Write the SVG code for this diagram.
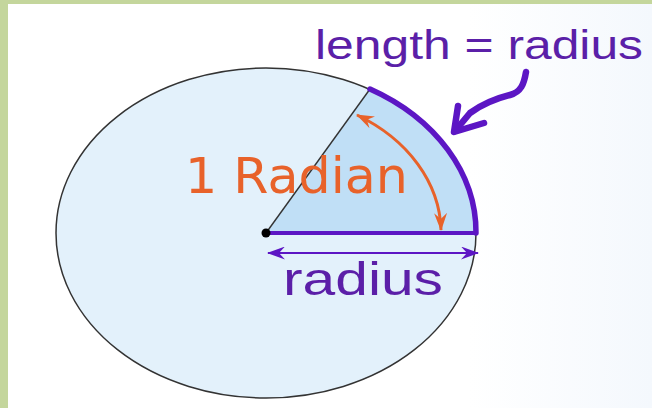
<svg xmlns="http://www.w3.org/2000/svg" width="652" height="408" viewBox="0 0 652 408">
  <defs>
    <linearGradient id="bg" x1="0" y1="0" x2="1" y2="0">
      <stop offset="0" stop-color="#ffffff"/>
      <stop offset="0.72" stop-color="#ffffff"/>
      <stop offset="1" stop-color="#f4f8fd"/>
    </linearGradient>
    <marker id="purpleHead" viewBox="0 0 18 13" refX="17" refY="6.5" markerWidth="18" markerHeight="13" markerUnits="userSpaceOnUse" orient="auto-start-reverse">
      <path d="M0,0 L18,6.5 L0,13 L6,6.5 Z" fill="#5c16c4"/>
    </marker>
    <marker id="orangeHead" viewBox="0 0 18 13" refX="17" refY="6.5" markerWidth="18" markerHeight="13" markerUnits="userSpaceOnUse" orient="auto-start-reverse">
      <path d="M0,0 L18,6.5 L0,13 L6,6.5 Z" fill="#e8622a"/>
    </marker>
  </defs>
  <style>
    .purple-text { font-family: "Liberation Sans", Arial, sans-serif; fill: #5b1fa8; }
    .orange-text { font-family: "DejaVu Sans", "Liberation Sans", sans-serif; fill: #e8622a; }
    .thick { fill: none; stroke: #5c16c4; stroke-linecap: round; }
  </style>

  <!-- background and frame -->
  <rect x="0" y="0" width="652" height="408" fill="url(#bg)"/>
  <rect x="0" y="0" width="652" height="4" fill="#c4d69c"/>
  <rect x="0" y="0" width="8" height="408" fill="#c4d69c"/>

  <g id="circle">
    <ellipse cx="266" cy="233" rx="210" ry="165" fill="#e3f1fb" stroke="#333" stroke-width="1.5"/>
  </g>

  <g id="sector">
    <path d="M266,233 L476,233 A210,165 0 0 0 370,89 Z" fill="#c0dff6"/>
    <line x1="266" y1="233" x2="370" y2="89" stroke="#333" stroke-width="1.4"/>
  </g>

  <g id="connectors">
    <path class="thick" d="M476,233 A210,165 0 0 0 370,89" stroke-width="5.5"/>
    <line x1="266" y1="233" x2="476" y2="233" stroke="#5c16c4" stroke-width="4"/>
    <line x1="268" y1="253" x2="478" y2="253" stroke="#5c16c4" stroke-width="2.2" marker-start="url(#purpleHead)" marker-end="url(#purpleHead)"/>
    <path d="M357,115 A176,138 0 0 1 441,230" fill="none" stroke="#e8622a" stroke-width="3" marker-start="url(#orangeHead)" marker-end="url(#orangeHead)"/>
    <path class="thick" d="M526,72 C524,84 521,92 510,95 C498,98 484,103 470,113 L455,131" stroke-width="6.5" stroke-linejoin="round"/>
    <path class="thick" d="M458,106 L454,132 L484,123" stroke-width="6.5" stroke-linejoin="round"/>
  </g>

  <g id="center">
    <circle cx="266" cy="233" r="4.5" fill="#000"/>
  </g>

  <g id="label-length">
    <text class="purple-text" x="315" y="59" font-size="40" textLength="328" lengthAdjust="spacingAndGlyphs">length = radius</text>
  </g>
  <g id="label-radian">
    <text class="orange-text" x="185" y="193" font-size="49" textLength="223" lengthAdjust="spacingAndGlyphs">1 Radian</text>
  </g>
  <g id="label-radius">
    <text class="purple-text" x="283" y="295" font-size="47" textLength="160" lengthAdjust="spacingAndGlyphs">radius</text>
  </g>
</svg>
